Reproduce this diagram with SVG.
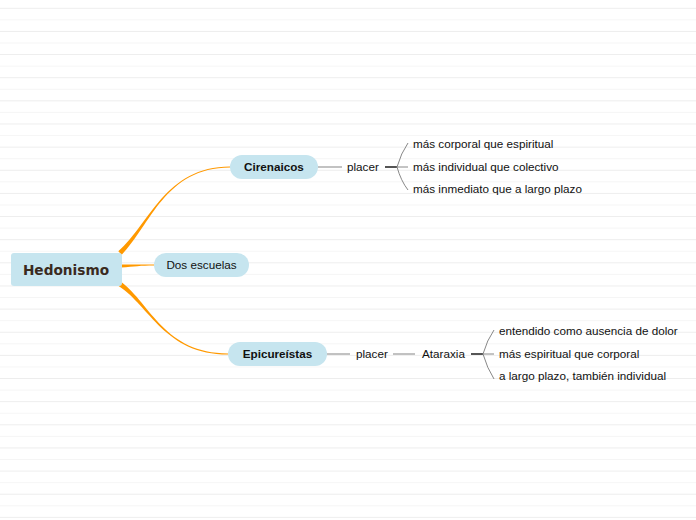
<svg xmlns="http://www.w3.org/2000/svg" width="696" height="520" viewBox="0 0 696 520">
<defs>
<pattern id="lines" patternUnits="userSpaceOnUse" x="0" y="7.8" width="696" height="23.14">
<rect x="0" y="0" width="696" height="1" fill="#ededed"/>
<rect x="0" y="11.57" width="696" height="1" fill="#f5f5f5"/>
</pattern>
<style>
.node{fill:#c6e5ef}
.t{font-family:"Liberation Sans",Arial,sans-serif;font-size:11.7px;fill:#111}
.b{font-weight:bold}
.g{stroke:#9a9a9a;stroke-width:1.2;fill:none}
.d{stroke:#555;stroke-width:2;fill:none}
.f{stroke:#888;stroke-width:1;fill:none}
.o{fill:#ff9900}
</style>
</defs>
<rect width="696" height="520" fill="#ffffff"/>
<rect width="696" height="520" fill="url(#lines)"/>
<g id="connectors">
<path class="o" d="M118.3,251.2 C149.5,224.4 165,166.4 230,166.4 L230,167.6 C165,167.6 150.5,225.6 121.7,254.8 Z"/>
<path class="o" d="M118.6,286 C149.5,305.7 165,354.6 228,354.6 L228,353.4 C165,353.4 150.5,304.3 121.4,282 Z"/>
<path class="o" d="M121,264.5 C135,264.6 140,264.6 154,264.6 L154,265.4 C140,265.4 135,266.4 121,267.5 Z"/>
<line class="g" x1="318" y1="167" x2="342" y2="167"/>
<line class="d" x1="385" y1="167" x2="397" y2="167"/>
<path class="f" d="M397,167 Q401,153 408,143"/>
<line class="f" x1="397" y1="167" x2="408" y2="167"/>
<path class="f" d="M397,167 Q401,181 408,190"/>
<line class="g" x1="327" y1="354" x2="350" y2="354"/>
<line class="g" x1="393" y1="354" x2="415" y2="354"/>
<line class="d" x1="471" y1="354" x2="483" y2="354"/>
<path class="f" d="M483,354 Q487,340 494,330"/>
<line class="f" x1="483" y1="354" x2="494" y2="354"/>
<path class="f" d="M483,354 Q487,368 494,379"/>
</g>
<g id="hedonismo">
<rect class="node" x="11" y="253" width="111" height="33" rx="3"/>
<text x="66" y="275" text-anchor="middle" style="font-family:'DejaVu Sans',Verdana,sans-serif;font-size:13.7px;font-weight:bold;fill:#3a2a1e">Hedonismo</text>
</g>
<g id="cirenaicos">
<rect class="node" x="230" y="155" width="88" height="24" rx="12"/>
<text class="t b" x="274" y="171" text-anchor="middle">Cirenaicos</text>
</g>
<g id="dos-escuelas">
<rect class="node" x="154" y="253" width="95" height="24" rx="12"/>
<text class="t" x="201.5" y="269" text-anchor="middle">Dos escuelas</text>
</g>
<g id="epicureistas">
<rect class="node" x="228" y="342" width="99" height="24" rx="12"/>
<text class="t b" x="277.5" y="358" text-anchor="middle">Epicureístas</text>
</g>
<g id="placer1"><text class="t" x="347" y="171">placer</text></g>
<g id="c1"><text class="t" x="413" y="148">más corporal que espiritual</text></g>
<g id="c2"><text class="t" x="413" y="171">más individual que colectivo</text></g>
<g id="c3"><text class="t" x="413" y="193">más inmediato que a largo plazo</text></g>
<g id="placer2"><text class="t" x="356" y="358">placer</text></g>
<g id="ataraxia"><text class="t" x="422" y="358">Ataraxia</text></g>
<g id="e1"><text class="t" x="499" y="335">entendido como ausencia de dolor</text></g>
<g id="e2"><text class="t" x="499" y="358">más espiritual que corporal</text></g>
<g id="e3"><text class="t" x="499" y="380">a largo plazo, también individual</text></g>
</svg>
